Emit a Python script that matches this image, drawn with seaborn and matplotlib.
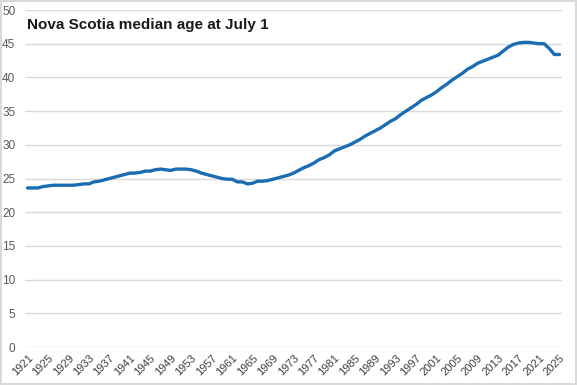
import matplotlib
matplotlib.use("Agg")
import matplotlib.pyplot as plt
import seaborn as sns
import pandas as pd

years = list(range(1921, 2026))
median_age = [
    23.6, 23.6, 23.6, 23.8, 23.9, 24.0, 24.0, 24.0, 24.0, 24.0,  # 1921-1930
    24.1, 24.2, 24.2, 24.5, 24.6, 24.8, 25.0, 25.2, 25.4, 25.6,  # 1931-1940
    25.8, 25.8, 25.9, 26.1, 26.1, 26.3, 26.4, 26.3, 26.2, 26.4,  # 1941-1950
    26.4, 26.4, 26.3, 26.1, 25.8, 25.6, 25.4, 25.2, 25.0, 24.9,  # 1951-1960
    24.9, 24.5, 24.5, 24.2, 24.3, 24.6, 24.6, 24.7, 24.9, 25.1,  # 1961-1970
    25.3, 25.5, 25.8, 26.2, 26.6, 26.9, 27.3, 27.8, 28.1, 28.5,  # 1971-1980
    29.1, 29.4, 29.7, 30.0, 30.4, 30.8, 31.3, 31.7, 32.1, 32.5,  # 1981-1990
    33.0, 33.5, 33.9, 34.5, 35.0, 35.5, 36.0, 36.6, 37.0, 37.4,  # 1991-2000
    37.9, 38.5, 39.0, 39.6, 40.1, 40.6, 41.2, 41.6, 42.1, 42.4,  # 2001-2010
    42.7, 43.0, 43.3, 43.9, 44.5, 44.9, 45.1, 45.2, 45.2, 45.1,  # 2011-2020
    45.0, 45.0, 44.3, 43.4, 43.4,                                # 2021-2025
]
tick_years = list(range(1921, 2026, 4))
y_ticks = list(range(0, 51, 5))
title = "Nova Scotia median age at July 1"

df = pd.DataFrame({"year": years, "age": median_age})

sns.set_style("white")
plt.rcParams["font.family"] = ["Liberation Sans", "DejaVu Sans"]

fig = plt.figure(figsize=(5.77, 3.85), dpi=100)
fig.patch.set_edgecolor("#d9d9d9")
fig.patch.set_linewidth(1.5)
ax = fig.add_axes([0.0433, 0.0987, 0.9307, 0.8753])

sns.lineplot(data=df, x="year", y="age", color="#1b6db3", linewidth=2.4, ax=ax)

ax.set_xlim(1920.5, 2025.5)
ax.set_ylim(0, 50)
ax.set_yticks(y_ticks)
ax.set_xticks(tick_years)
ax.set_xticklabels([str(y) for y in tick_years], rotation=45, ha="right",
                   rotation_mode="anchor", fontsize=8, color="#404040")
ax.set_yticklabels([str(v) for v in y_ticks], fontsize=8.5, color="#595959")
ax.tick_params(axis="x", length=0, pad=4)
ax.tick_params(axis="y", length=0, pad=7)
ax.grid(axis="y", color="#d9d9d9", linewidth=1)
ax.set_axisbelow(True)
for s in ax.spines.values():
    s.set_visible(False)
ax.set_xlabel("")
ax.set_ylabel("")

ax.text(0.003, 0.955, title, transform=ax.transAxes, fontsize=11,
        fontweight="bold", color="#1a1a1a", va="center", ha="left")

fig.savefig("out.png", dpi=100)
